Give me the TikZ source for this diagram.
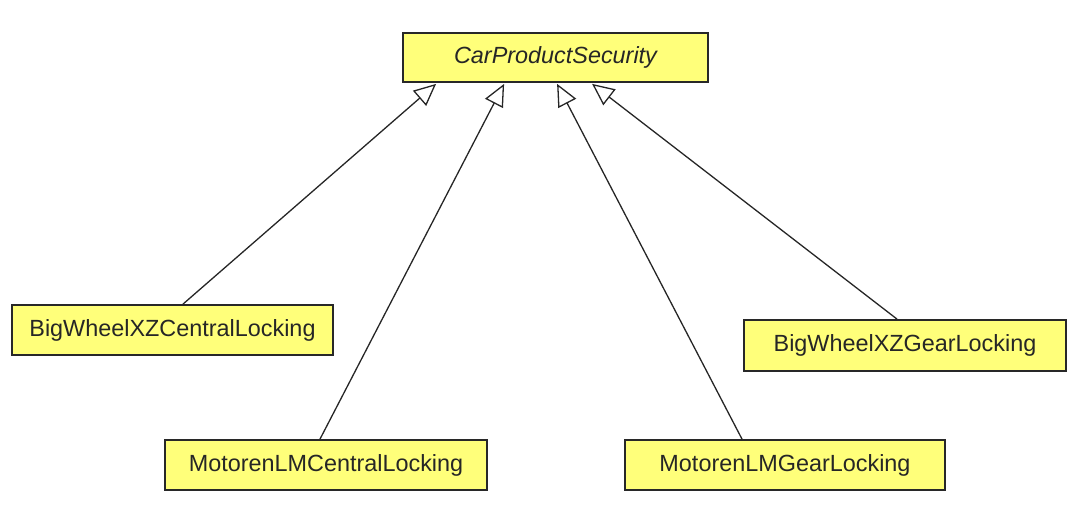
\documentclass[tikz,border=0pt]{standalone}
\usepackage{fontspec}
\setmainfont{Liberation Sans}
\usetikzlibrary{arrows.meta,calc}
\definecolor{boxfill}{RGB}{255,255,122}
\definecolor{boxline}{RGB}{40,40,40}
\begin{document}
\begin{tikzpicture}[x=0.5pt,y=-0.5pt,
  cls/.style={draw=boxline,fill=boxfill,line width=0.9pt,minimum height=25pt,inner sep=0pt,
    font=\fontsize{11.7}{14}\selectfont,text=black!85},
  gen/.style={draw=black!85,line width=0.65pt,-{Triangle[length=11pt,width=10pt,fill=white,line width=0.65pt]}}]
\useasboundingbox (0,0) rectangle (1088,522);
\node[cls,minimum width=152.5pt,minimum height=24.5pt,font=\fontsize{11.7}{14}\selectfont\itshape] (top) at (555.5,57.5) {CarProductSecurity};
\node[cls,minimum width=160.5pt] (bwc) at (172.5,330) {BigWheelXZCentralLocking};
\node[cls,minimum width=161pt] (mlc) at (326,465) {MotorenLMCentralLocking};
\node[cls,minimum width=160pt] (mlg) at (785,465) {MotorenLMGearLocking};
\node[cls,minimum width=161pt,minimum height=25.5pt] (bwg) at (905,345.5) {BigWheelXZGearLocking};
\coordinate (t1) at ($(top.south west)+(34,1)$);
\coordinate (t2) at ($(top.south west)+(102,1)$);
\coordinate (t3) at ($(top.south west)+(155,1)$);
\coordinate (t4) at ($(top.south west)+(190,1)$);
\draw[gen] ($(bwc.north)+(10.5,0)$) -- (t1);
\draw[gen] ($(mlc.north)+(-6,0)$) -- (t2);
\draw[gen] ($(mlg.north)+(-43,0)$) -- (t3);
\draw[gen] ($(bwg.north)+(-8,0)$) -- (t4);
\end{tikzpicture}
\end{document}
